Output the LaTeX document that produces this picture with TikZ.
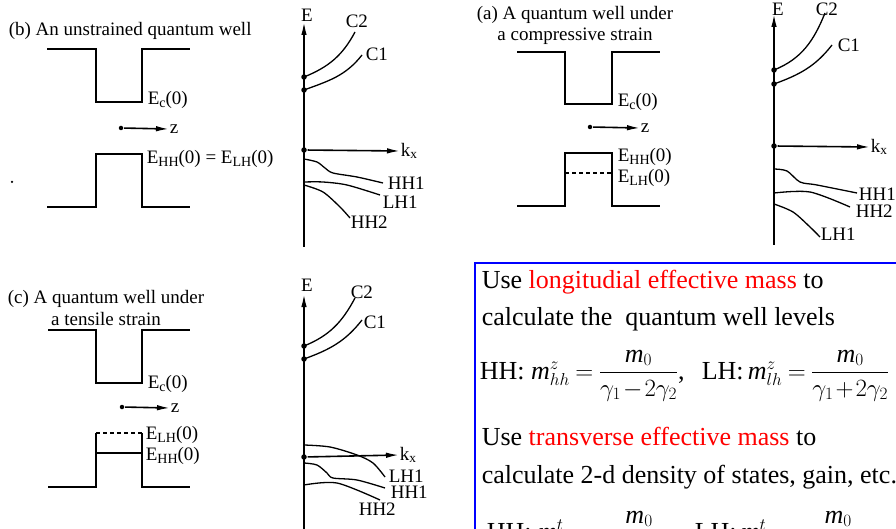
\documentclass[tikz,border=0pt]{standalone}
\usepackage{amsmath}
\usepackage{fontspec}
\setmainfont{Liberation Serif}
\usetikzlibrary{arrows.meta}
\tikzset{every picture/.style={line width=1.6pt}}
\newcommand{\lvl}[1]{E\raisebox{-0.35ex}{\fontsize{14}{14}\selectfont #1}(0)}

\begin{document}
\begin{tikzpicture}[x=1pt, y=-1pt, >={Latex[length=13pt,width=5.5pt]},
    every node/.style={font=\fontsize{19}{21}\selectfont, inner sep=0pt},
    dot/.style={circle, fill, inner sep=0pt, minimum size=5.5pt},
    band/.style={line width=1.3pt},
    hdash/.style={line width=1.2pt, dash pattern=on 4pt off 3pt},
    txt/.style={font=\fontsize{26}{30}\selectfont, anchor=base west}]
    \useasboundingbox (0,0) rectangle (896,529);
    \clip (0,0) rectangle (896,529);

    % (b) unstrained well
    \node[anchor=west] (tb) at (8,31) {(b) An unstrained quantum well};
    \draw (47,49) -- (96,49) -- (96,102) -- (142,102) -- (142,49) -- (190,49);
    \draw (47,207) -- (96,207) -- (96,154) -- (142,154) -- (142,207) -- (190,207);
    \node[anchor=west] (ecb) at (147,100) {\lvl{c}};
    \node[anchor=west] (vb) at (146,159) {\lvl{HH} = \lvl{LH}};
    \node[dot, minimum size=4.5pt] (zb0) at (121,128) {};
    \node[anchor=west] (zb) at (169,129) {z};
    \draw[->] (zb0) -- (zb.west);
    \node[dot, minimum size=2.5pt] (spot) at (12,182) {};

    \coordinate (eb0) at (304,247); \coordinate (ebt) at (304,22);
    \draw[->] (eb0) -- (ebt);
    \node (Eb) at (307,15) {E};
    \node[dot] (c2b) at (304,77) {};
    \node[dot] (c1b) at (304,90) {};
    \node[dot] (kb0) at (304,150) {};
    \node[anchor=west] (kb) at (400,151) {k\textsubscript{x}};
    \draw[->] (kb0) -- (kb.west);
    \draw[band] (c2b.center) to[out=22, in=-118] (355,32);
    \draw[band] (c1b.center) to[out=20, in=-128] (362,55);
    \node[anchor=west] (lc2b) at (345,21) {C2};
    \node[anchor=west] (lc1b) at (365,54) {C1};
    \draw[band] plot[smooth] coordinates {(304,159) (317,162) (325,168) (333,173) (357,177) (383,183)};
    \draw[band] plot[smooth] coordinates {(304,182) (323,182) (347,185) (380,195)};
    \draw[band] plot[smooth] coordinates {(304,185) (323,192) (340,207) (350,218)};
    \node[anchor=west] (hh1b) at (387,183) {HH1};
    \node[anchor=west] (lh1b) at (382,202) {LH1};
    \node[anchor=west] (hh2b) at (350,222) {HH2};

    % (a) compressive strain
    \node[align=center, font=\fontsize{19}{21}\selectfont] (ta) at (575,25) {(a) A quantum well under\\a compressive strain};
    \draw (517,52) -- (565,52) -- (565,104) -- (612,104) -- (612,52) -- (660,52);
    \draw (517,206) -- (565,206) -- (565,153) -- (612,153) -- (612,206) -- (660,206);
    \draw[hdash] (565,173) -- (612,173);
    \node[anchor=west] (eca) at (617,102) {\lvl{c}};
    \node[anchor=west] (hha) at (617,157) {\lvl{HH}};
    \node[anchor=west] (lha) at (617,178) {\lvl{LH}};
    \node[dot, minimum size=4.5pt] (za0) at (590,127) {};
    \node[anchor=west] (za) at (640,128) {z};
    \draw[->] (za0) -- (za.west);

    \coordinate (ea0) at (774,245); \coordinate (eat) at (774,14);
    \draw[->] (ea0) -- (eat);
    \node (Ea) at (778,9) {E};
    \node[dot] (c2a) at (774,70) {};
    \node[dot] (c1a) at (774,84) {};
    \node[dot] (ka0) at (774,146) {};
    \node[anchor=west] (ka) at (870,147) {k\textsubscript{x}};
    \draw[->] (ka0) -- (ka.west);
    \draw[band] (c2a.center) to[out=22, in=-112] (825,13);
    \draw[band] (c1a.center) to[out=20, in=-128] (832,45);
    \node[anchor=west] (lc2a) at (815,9) {C2};
    \node[anchor=west] (lc1a) at (837,45) {C1};
    \draw[band] plot[smooth] coordinates {(774,169) (787,171) (800,182) (817,185) (857,193)};
    \draw[band] plot[smooth] coordinates {(774,193) (810,192) (850,207)};
    \draw[band] plot[smooth] coordinates {(774,204) (793,212) (810,227) (820,237)};
    \node[anchor=west] (hh1a) at (858,194) {HH1};
    \node[anchor=west] (hh2a) at (855,211) {HH2};
    \node[anchor=west] (lh1a) at (820,234) {LH1};

    % (c) tensile strain
    \node[align=center, font=\fontsize{19}{21}\selectfont] (tc) at (106,308) {(c) A quantum well under\\a tensile strain};
    \draw (48,330) -- (96,330) -- (96,383) -- (142,383) -- (142,330) -- (190,330);
    \draw (48,487) -- (96,487) -- (96,433) (96,453) -- (142,453) (142,433) -- (142,487) -- (190,487);
    \draw[hdash] (96,433) -- (142,433);
    \node[anchor=west] (ecc) at (147,384) {\lvl{c}};
    \node[anchor=west] (lhc) at (145,435) {\lvl{LH}};
    \node[anchor=west] (hhc) at (145,456) {\lvl{HH}};
    \node[dot, minimum size=4.5pt] (zc0) at (122,407) {};
    \node[anchor=west] (zc) at (170,408) {z};
    \draw[->] (zc0) -- (zc.west);

    \coordinate (ec0) at (304,540); \coordinate (ect) at (304,294);
    \draw[->] (ec0) -- (ect);
    \node (Ec) at (307,285) {E};
    \node[dot] (c2c) at (304,346) {};
    \node[dot] (c1c) at (304,359) {};
    \node[dot] (kc0) at (304,457) {};
    \node[anchor=west] (kc) at (399,455) {k\textsubscript{x}};
    \draw[->] (kc0) -- (kc.west);
    \draw[band] (c2c.center) to[out=22, in=-118] (355,298);
    \draw[band] (c1c.center) to[out=20, in=-128] (362,320);
    \node[anchor=west] (lc2c) at (350,292) {C2};
    \node[anchor=west] (lc1c) at (363,322) {C1};
    \draw[band] plot[smooth] coordinates {(304,445) (330,447) (357,455) (373,463) (385,477)};
    \draw[band] plot[smooth] coordinates {(304,463) (317,465) (327,473) (333,478) (357,480) (385,488)};
    \draw[band] plot[smooth] coordinates {(304,485) (337,483) (380,500)};
    \node[anchor=west] (lh1c) at (388,476) {LH1};
    \node[anchor=west] (hh1c) at (390,492) {HH1};
    \node[anchor=west] (hh2c) at (358,509) {HH2};

    % effective mass box
    \draw[blue, line width=2pt] (475,263) rectangle (915,560);
    \node[txt] (l1) at (481,288) {Use \textcolor{red}{longitudial effective mass} to};
    \node[txt] (l2) at (481,325) {calculate the~ quantum well levels};
    \node[txt] (l3a) at (479,379) {\medmuskip=1.5mu\thickmuskip=4mu HH: $\mathit{m}^{z}_{hh}=\dfrac{\mathit{m}_0}{\gamma_1-2\gamma_2}$,};
    \node[txt] (l3b) at (701,379) {\medmuskip=1.5mu\thickmuskip=4mu LH:$\,\mathit{m}^{z}_{lh}=\dfrac{\mathit{m}_0}{\gamma_1+2\gamma_2}$};
    \node[txt] (l4) at (481,445) {Use \textcolor{red}{transverse effective mass} to};
    \node[txt] (l5) at (481,483) {calculate 2-d density of states, gain, etc.};
    \node[txt] (l6a) at (486,540) {\medmuskip=1.5mu\thickmuskip=4mu HH: $\mathit{m}^{t}_{hh}=\dfrac{\mathit{m}_0}{\gamma_1+\gamma_2}$,};
    \node[txt] (l6b) at (694,540) {\medmuskip=1.5mu\thickmuskip=4mu LH:$\,\mathit{m}^{t}_{lh}=\dfrac{\mathit{m}_0}{\gamma_1-\gamma_2}$};
\end{tikzpicture}
\end{document}
